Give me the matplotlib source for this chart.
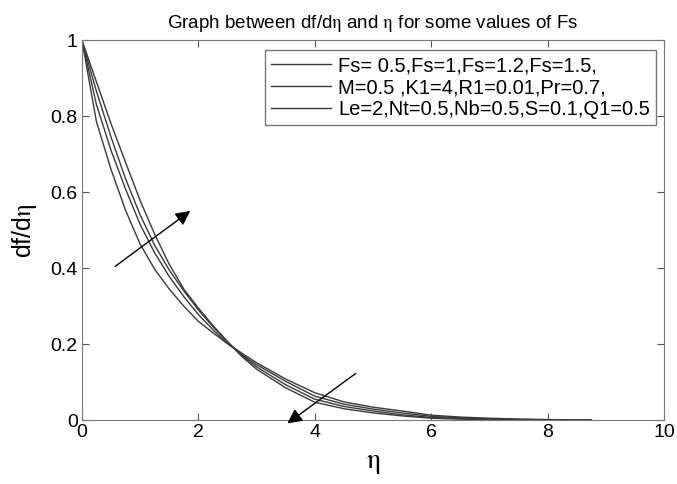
import numpy as np
import matplotlib
matplotlib.use("Agg")
import matplotlib.pyplot as plt

plt.rcParams['font.family'] = ['Liberation Sans', 'DejaVu Sans']
plt.rcParams['mathtext.fontset'] = 'stix'

# values
eta = [0, 0.25, 0.5, 0.75, 1.0, 1.25, 1.5, 1.75, 2.0, 2.25, 2.5, 2.75,
       3.0, 3.5, 4.0, 4.5, 5.0, 5.5, 6.0, 6.5, 7.0, 7.5, 8.0, 8.75]
fs_05 = [1, 0.785, 0.66, 0.552, 0.463, 0.397, 0.345, 0.30, 0.26, 0.23, 0.201, 0.176,
         0.151, 0.108, 0.072, 0.048, 0.034, 0.024, 0.013, 0.008, 0.005, 0.003, 0.0015, 0.0]
fs_1 = [1, 0.83, 0.71, 0.608, 0.515, 0.44, 0.378, 0.325, 0.278, 0.238, 0.202, 0.172,
        0.146, 0.102, 0.063, 0.042, 0.029, 0.019, 0.010, 0.006, 0.003, 0.0015, 0.0005, 0.0]
fs_12 = [1, 0.865, 0.745, 0.635, 0.54, 0.46, 0.395, 0.34, 0.29, 0.246, 0.206, 0.17,
         0.14, 0.093, 0.055, 0.036, 0.024, 0.014, 0.007, 0.004, 0.002, 0.001, 0.0, 0.0]
fs_15 = [1, 0.89, 0.78, 0.678, 0.578, 0.489, 0.41, 0.345, 0.295, 0.249, 0.207, 0.167,
         0.134, 0.085, 0.047, 0.030, 0.019, 0.011, 0.005, 0.0025, 0.001, 0.0003, 0.0, 0.0]
curves = [fs_05, fs_1, fs_12, fs_15]
labels = ['Fs= 0.5,Fs=1,Fs=1.2,Fs=1.5,',
          'M=0.5 ,K1=4,R1=0.01,Pr=0.7,',
          'Le=2,Nt=0.5,Nb=0.5,S=0.1,Q1=0.5']

fig = plt.figure(figsize=(6.77, 4.84), dpi=100)
ax = fig.add_axes([0.121, 0.132, 0.86, 0.785])

for i, c in enumerate(curves):
    lab = labels[i] if i < len(labels) else None
    ax.plot(eta, c, color='#3a3a3a', lw=1.0, label=lab)

ax.set_xlim(0, 10)
ax.set_ylim(0, 1)
ax.set_xticks([0, 2, 4, 6, 8, 10])
ax.set_yticks([0, 0.2, 0.4, 0.6, 0.8, 1])
ax.set_yticklabels(['0', '0.2', '0.4', '0.6', '0.8', '1'])
ax.tick_params(direction='in', top=True, right=True, labelsize=14,
               color='#555555', length=5, pad=3)
for s in ax.spines.values():
    s.set_color('#777777')

ax.set_xlabel(r'$\mathrm{\eta}$', fontsize=20, labelpad=6)
ax.set_ylabel(r'df/d$\mathrm{\eta}$', fontsize=18, labelpad=8)
ax.set_title(r'Graph between df/d$\mathrm{\eta}$ and $\mathrm{\eta}$ for some values of Fs',
             fontsize=13.5, pad=9)

# arrows showing direction of increasing Fs
ax.annotate('', xy=(1.90, 0.555), xytext=(0.53, 0.40),
            arrowprops=dict(arrowstyle='-|>', color='#555555', lw=1,
                            mutation_scale=22, fc='black', ec='black'))
ax.annotate('', xy=(3.49, -0.013), xytext=(4.74, 0.127), annotation_clip=False,
            arrowprops=dict(arrowstyle='-|>', color='#555555', lw=1,
                            mutation_scale=22, fc='black', ec='black'))

leg = ax.legend(loc='upper right', bbox_to_anchor=(0.986, 0.974), borderaxespad=0,
                fontsize=14.5, handlelength=3.0, handletextpad=0.35, fancybox=False,
                edgecolor='#555555', labelspacing=0.15, borderpad=0.3)
leg.get_frame().set_linewidth(1.0)

fig.savefig('out.png', dpi=100)
